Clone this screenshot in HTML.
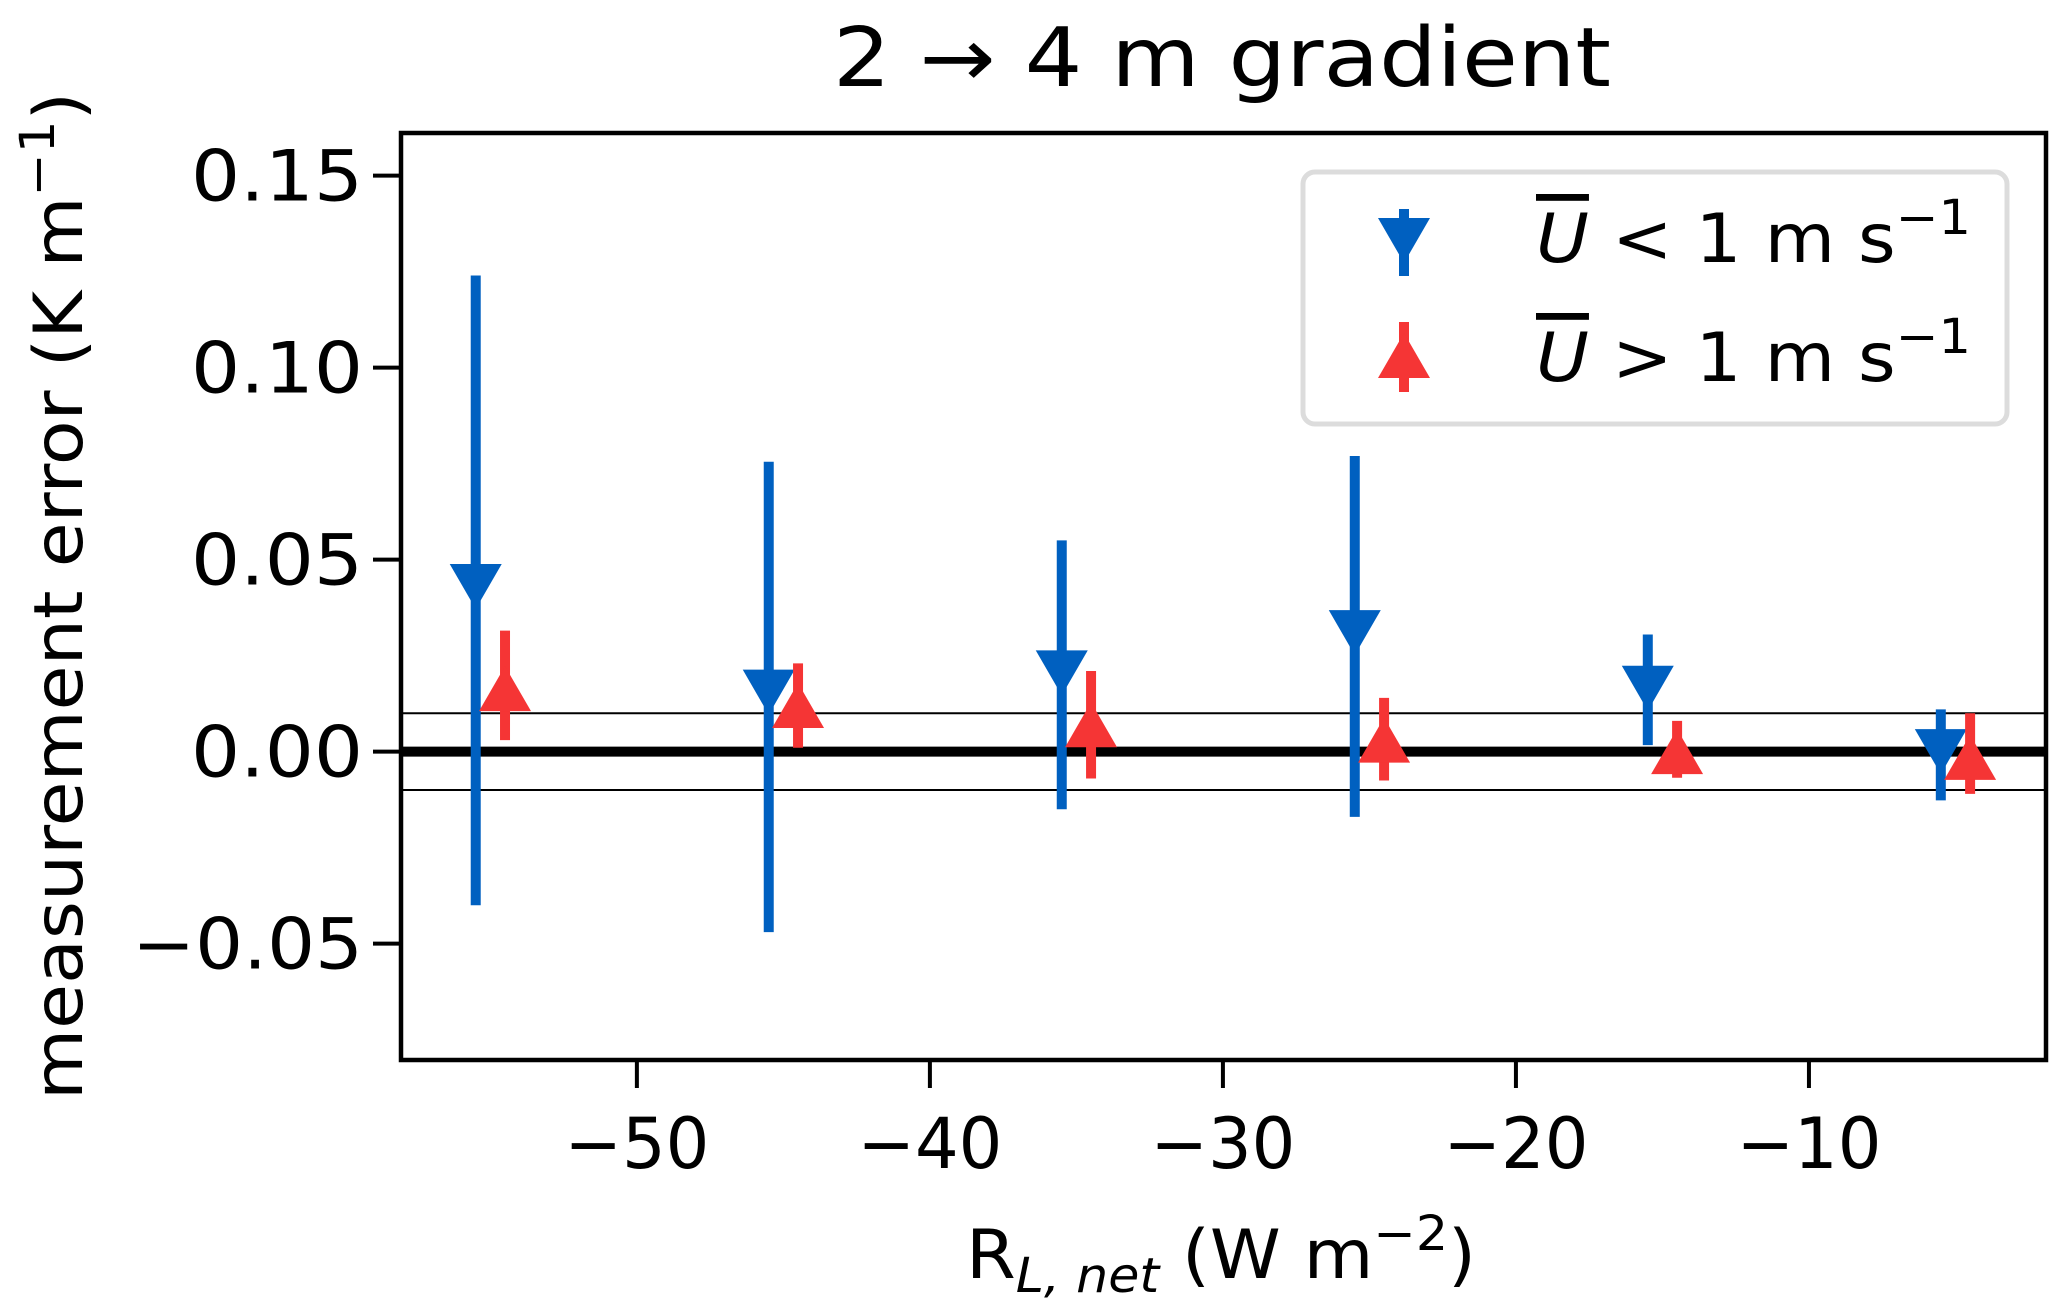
<!DOCTYPE html>
<html><head><meta charset="utf-8"><style>
html,body{margin:0;padding:0;background:#fff;}
svg{display:block;font-family:"DejaVu Sans","Liberation Sans",sans-serif;}
</style></head><body>
<svg id="chart" width="2067" height="1314" viewBox="0 0 2067 1314">
<text x="1222" y="86" font-size="82" text-anchor="middle" textLength="778" lengthAdjust="spacingAndGlyphs">2 → 4 m gradient</text>
<g id="plot"></g>
<rect x="401" y="133" width="1645" height="927" fill="none" stroke="#000" stroke-width="4.5"/>
<text x="966" y="1278" font-size="68" textLength="510" lengthAdjust="spacingAndGlyphs">R<tspan font-size="48" font-style="italic" dy="14">L, net</tspan><tspan dy="-14"> (W m</tspan><tspan font-size="48" dy="-28">−2</tspan><tspan dy="28">)</tspan></text>
<text transform="translate(82,1100) rotate(-90)" font-size="68" textLength="1008" lengthAdjust="spacingAndGlyphs">measurement error (K m<tspan font-size="48" dy="-28">−1</tspan><tspan dy="28">)</tspan></text>
<g>
<rect x="1303" y="172" width="704" height="252" rx="12" fill="#fff" fill-opacity="0.85" stroke="#dcdcdc" stroke-width="5"/>
<g>
<line x1="1404" y1="209" x2="1404" y2="276" stroke="#0060c0" stroke-width="10"/>
<polygon points="1378,218 1430,218 1404,263" fill="#0060c0"/>
<text x="1536" y="262" font-size="68" textLength="435" lengthAdjust="spacingAndGlyphs"><tspan font-style="italic" text-decoration="overline">U</tspan> &lt; 1 m s<tspan font-size="48" dy="-28">−1</tspan></text>
</g>
<g>
<line x1="1404" y1="322" x2="1404" y2="392" stroke="#f53535" stroke-width="10"/>
<polygon points="1378,378 1430,378 1404,333" fill="#f53535"/>
<text x="1536" y="381" font-size="68" textLength="435" lengthAdjust="spacingAndGlyphs"><tspan font-style="italic" text-decoration="overline">U</tspan> &gt; 1 m s<tspan font-size="48" dy="-28">−1</tspan></text>
</g>
</g>
</svg>
<script>
const categories = [-55, -45, -35, -25, -15, -5];
const blueVals = [0.043, 0.0155, 0.0205, 0.031, 0.0165, 0.000];
const blueHi = [0.124, 0.0755, 0.055, 0.077, 0.0305, 0.011];
const blueLo = [-0.040, -0.047, -0.015, -0.017, 0.0017, -0.0127];
const redVals = [0.0164, 0.012, 0.007, 0.003, 0.000, -0.0015];
const redHi = [0.0315, 0.023, 0.021, 0.014, 0.008, 0.010];
const redLo = [0.003, 0.001, -0.007, -0.0075, -0.0068, -0.011];
const xTicks = [-50, -40, -30, -20, -10];
const xTickLabels = ["−50", "−40", "−30", "−20", "−10"];
const yTicks = [-0.05, 0, 0.05, 0.10, 0.15];
const yTickLabels = ["−0.05", "0.00", "0.05", "0.10", "0.15"];
const refLines = [0.01, -0.01];

const L=401,R=2046,T=133,B=1060;
const xMin=-58.05,xMax=-1.91,yMin=-0.0803,yMax=0.1611;
function xs(v){return L+(v-xMin)/(xMax-xMin)*(R-L);}
function ys(v){return B-(v-yMin)/(yMax-yMin)*(B-T);}
const NS="http://www.w3.org/2000/svg";
const svg=document.getElementById('chart');
const plot=document.getElementById('plot');
function mk(tag,attrs,parent){const e=document.createElementNS(NS,tag);for(const k in attrs)e.setAttribute(k,attrs[k]);(parent||plot).appendChild(e);return e;}

refLines.forEach(v=>{
  const l=mk('line',{x1:L,x2:R,y1:ys(v),y2:ys(v),stroke:'#000','stroke-width':2});
  
  
});
const z=mk('line',{x1:L,x2:R,y1:ys(0),y2:ys(0),stroke:'#000','stroke-width':10});



function series(vals,hi,lo,off,color,down,name){
  categories.forEach((c,i)=>{
    const x=xs(c+off);
    const g=mk('g',{});
    
    
    mk('line',{x1:x,x2:x,y1:ys(hi[i]),y2:ys(lo[i]),stroke:color,'stroke-width':10},g);
    const y=ys(vals[i]);
    const pts=down?`${x-26},${y-22.5} ${x+26},${y-22.5} ${x},${y+22.5}`:`${x-26},${y+22.5} ${x+26},${y+22.5} ${x},${y-22.5}`;
    mk('polygon',{points:pts,fill:color},g);
  });
}
series(blueVals,blueHi,blueLo,-0.5,'#0060c0',true,'low-wind');
series(redVals,redHi,redLo,0.5,'#f53535',false,'high-wind');

xTicks.forEach((v,i)=>{
  const x=xs(v);
  const t=mk('line',{x1:x,x2:x,y1:B,y2:B+28,stroke:'#000','stroke-width':4},svg);
  
  
  const tx=mk('text',{x:x,y:1168,'font-size':70,'text-anchor':'middle',textLength:145,lengthAdjust:'spacingAndGlyphs'},svg);
  tx.textContent=xTickLabels[i];
  
  
});
yTicks.forEach((v,i)=>{
  const y=ys(v);
  const t=mk('line',{x1:L-28,x2:L,y1:y,y2:y,stroke:'#000','stroke-width':4},svg);
  
  
  const w=yTickLabels[i].length===5?231:172;
  const tx=mk('text',{x:363-w,y:y+25,'font-size':70,textLength:w,lengthAdjust:'spacingAndGlyphs'},svg);
  tx.textContent=yTickLabels[i];
  
  
});
</script>
</body></html>
